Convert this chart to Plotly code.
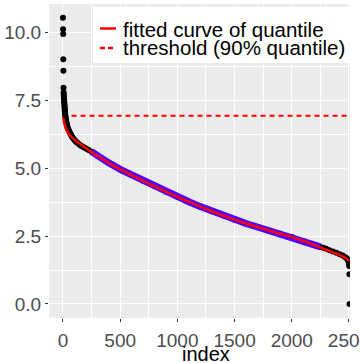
import plotly.graph_objects as go

point_index = [0, 1, 2, 3, 4, 5, 6, 7, 8, 9, 10, 11, 12, 13, 14, 15, 16, 17, 18, 19, 20, 22, 24, 26,
               28, 30, 33, 36, 40, 44, 48, 53, 58, 64, 70, 78, 86, 95, 105, 116, 128, 141, 155, 170,
               186, 204, 225, 250, 300, 400, 500, 600, 700, 800, 900, 1000, 1100, 1200, 1300, 1400,
               1500, 1600, 1700, 1800, 1900, 2000, 2100, 2200, 2250, 2275, 2300, 2330, 2360, 2390,
               2420, 2445, 2465, 2480, 2490, 2496, 2500, 2502, 2503, 2504, 2505]
point_value = [10.52, 10.1, 9.93, 9.0, 8.58, 7.95, 7.78, 7.7, 7.63, 7.57, 7.5, 7.44, 7.38, 7.32, 7.26,
               7.2, 7.14, 7.09, 7.04, 6.99, 6.94, 6.88, 6.83, 6.78, 6.73, 6.68, 6.62, 6.56, 6.5, 6.45,
               6.41, 6.36, 6.32, 6.27, 6.22, 6.16, 6.11, 6.06, 6.01, 5.96, 5.92, 5.87, 5.83, 5.79,
               5.75, 5.71, 5.66, 5.6, 5.45, 5.19, 4.95, 4.74, 4.53, 4.33, 4.13, 3.94, 3.76, 3.58, 3.41,
               3.25, 3.1, 2.96, 2.83, 2.7, 2.58, 2.46, 2.32, 2.16, 2.1, 2.07, 2.03, 1.98, 1.93, 1.88,
               1.83, 1.78, 1.73, 1.68, 1.63, 1.57, 1.5, 1.45, 1.4, 1.09, 0.0]

# fitted quantile curve
fit_index = [3, 10, 20, 32, 50, 76, 110, 163, 236, 300, 400, 500, 600, 700, 800, 900, 1000, 1100,
             1200, 1300, 1400, 1500, 1600, 1700, 1800, 1900, 2000, 2100, 2200, 2260, 2330, 2390,
             2440, 2475, 2503]
fit_value = [6.85, 6.66, 6.52, 6.4, 6.26, 6.14, 6.0, 5.85, 5.62, 5.45, 5.19, 4.95, 4.74, 4.53, 4.33,
             4.13, 3.94, 3.76, 3.58, 3.41, 3.25, 3.1, 2.96, 2.83, 2.7, 2.58, 2.46, 2.32, 2.16, 2.06,
             1.95, 1.85, 1.76, 1.68, 1.58]

threshold = 6.92
threshold_span = [75, 2520]
mid_lo, mid_hi = 250, 2250

legend_labels = ["fitted curve of quantile", "threshold (90% quantile)"]
x_title = "index"

mid = [(i, v) for i, v in zip(point_index, point_value) if mid_lo <= i <= mid_hi]

fig = go.Figure()
fig.add_trace(go.Scatter(x=point_index, y=point_value, mode="markers",
                         marker=dict(color="black", size=6), showlegend=False, hoverinfo="skip"))
fig.add_trace(go.Scatter(x=[m[0] for m in mid], y=[m[1] for m in mid], mode="lines",
                         line=dict(color="#5000FF", width=7), showlegend=False))
fig.add_trace(go.Scatter(x=fit_index, y=fit_value, mode="lines", showlegend=False,
                         line=dict(color="red", width=2.5, shape="spline", smoothing=0.6)))
fig.add_trace(go.Scatter(x=threshold_span, y=[threshold, threshold], mode="lines", showlegend=False,
                         line=dict(color="red", width=2, dash="5px,4px")))

axis_common = dict(showgrid=True, gridcolor="white", gridwidth=1.2, zeroline=False,
                   ticks="outside", ticklen=3, tickcolor="#333333", tickwidth=1,
                   tickfont=dict(size=19, color="#4d4d4d"), showline=False,
                   ticklabeloverflow="allow", automargin=False)

fig.update_xaxes(range=[-122, 2509], tickvals=[0, 500, 1000, 1500, 2000, 2500],
                 ticklabelstandoff=2,
                 minor=dict(dtick=250, tick0=0, showgrid=True, gridcolor="white", gridwidth=0.6, ticks=""),
                 **axis_common)
fig.update_yaxes(range=[-0.515, 11.03], tickvals=[0, 2.5, 5, 7.5, 10],
                 ticktext=["0.0", "2.5", "5.0", "7.5", "10.0"],
                 minor=dict(dtick=1.25, tick0=0, showgrid=True, gridcolor="white", gridwidth=0.6, ticks=""),
                 **axis_common)

# legend box and axis title placed in pixel terms of the 301x314 plot area
W, H, L, T = 301, 314, 49, 4
def px(x):
    return (x - L) / W
def py(y):
    return (T + H - y) / H

fig.add_shape(type="rect", xref="paper", yref="paper", x0=px(93), x1=px(350), y0=py(63), y1=py(7),
              fillcolor="white", line=dict(width=0), layer="above")
fig.add_shape(type="line", xref="paper", yref="paper", x0=px(100), x1=px(116), y0=py(28.5), y1=py(28.5),
              line=dict(color="red", width=2.5), layer="above")
fig.add_shape(type="line", xref="paper", yref="paper", x0=px(100), x1=px(116), y0=py(48), y1=py(48),
              line=dict(color="red", width=2.5, dash="5px,3px"), layer="above")
for label, yy in zip(legend_labels, [29.5, 47.5]):
    fig.add_annotation(text=label, xref="paper", yref="paper", x=px(121), y=py(yy),
                       xanchor="left", yanchor="middle", showarrow=False,
                       font=dict(size=20.5, color="black"))

fig.add_annotation(text=x_title, xref="paper", yref="paper", x=px(206), y=py(341),
                   xanchor="center", yanchor="top", showarrow=False,
                   font=dict(size=20, color="black"))

fig.update_layout(
    width=360, height=363,
    margin=dict(l=49, r=10, t=4, b=45),
    plot_bgcolor="#EBEBEB", paper_bgcolor="white",
    font=dict(family="Liberation Sans, Arial, sans-serif"),
    showlegend=False,
)

fig.write_html("out.html", config={"displayModeBar": False},
               post_script="document.body.style.margin='0';")
